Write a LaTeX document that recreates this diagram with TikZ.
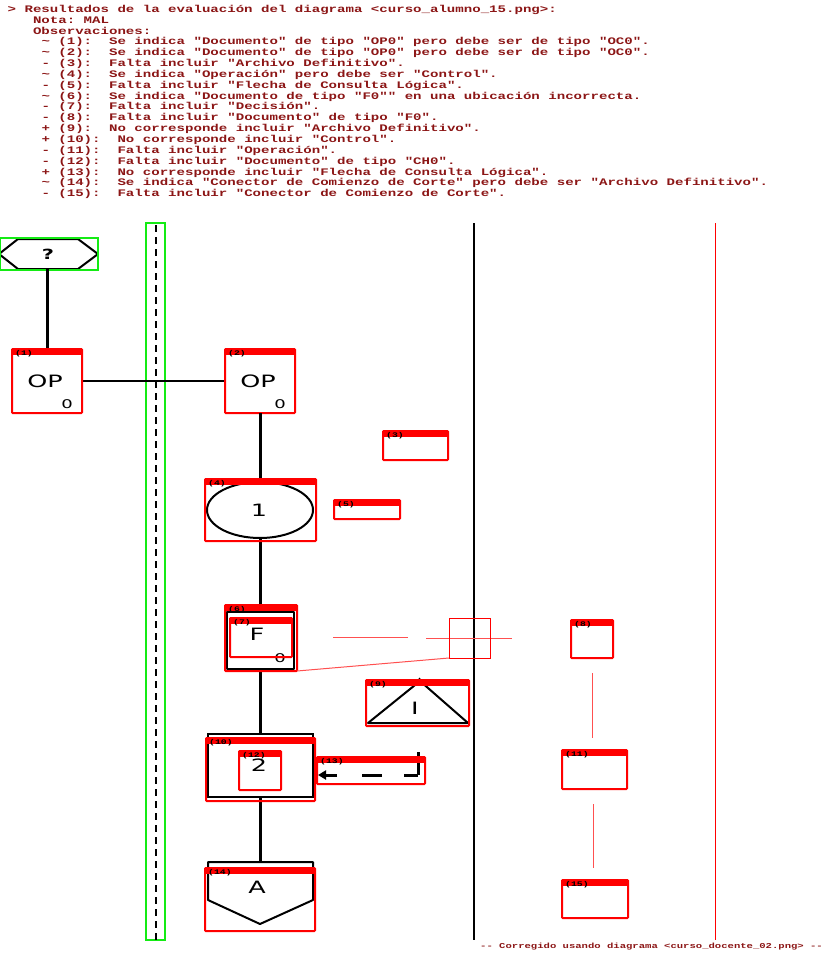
\documentclass[tikz,border=0pt]{standalone}
\usepackage{fontspec}
\setmainfont{DejaVu Sans}
\setmonofont{Liberation Mono}
\usepackage{graphicx}
\usetikzlibrary{arrows.meta,shapes.geometric}
\definecolor{hdr}{RGB}{140,22,22}
\definecolor{gr}{RGB}{20,235,20}
\definecolor{lred}{RGB}{255,80,80}
\newcommand\sx[1]{\scalebox{1.5}[1]{#1}}
\newcommand\hx[1]{\scalebox{1.408}[1]{#1}}
\newcommand\rbox[6]{%
  \draw[rb] (#2,#3) rectangle (#4,#5);
  \fill[red] (#2,#3) rectangle (#4,#3+6);
  \node[rlab] (#1) at (#2+3,#3+6) {\scalebox{1.4}[1]{(#6)}};
}
\tikzset{
  hdrtxt/.style={anchor=base west, inner sep=0pt, text=hdr, font=\fontsize{10}{10}\selectfont\ttfamily\bfseries},
  foot/.style={anchor=base west, inner sep=0pt, text=hdr, font=\fontsize{7.5}{8}\selectfont\ttfamily\bfseries},
  rb/.style={draw=red, line width=2pt, rounded corners=0.8pt},
  rlab/.style={anchor=base west, inner sep=0pt, text=black, font=\fontsize{7}{7}\selectfont\ttfamily\bfseries},
  shp/.style={draw=black, line width=2pt, line join=round},
  spine/.style={draw=black, line width=3pt},
  big/.style={inner sep=0pt, font=\fontsize{17}{17}\selectfont},
  small/.style={inner sep=0pt, font=\fontsize{12}{12}\selectfont},
  thin/.style={draw=lred, line width=1pt},
}
\begin{document}
\begin{tikzpicture}[x=1pt,y=-1pt]
\useasboundingbox (0,0) rectangle (826,953);
\fill[white] (0,0) rectangle (826,953);
% ---------- header ----------
\node[hdrtxt] (h0) at (7.5,12.3) {\hx{> Resultados de la evaluación del diagrama <curso\_alumno\_15.png>:}};
\node[hdrtxt] (h1) at (32.85,23.15) {\hx{Nota: MAL}};
\node[hdrtxt] (h2) at (32.85,34.0) {\hx{Observaciones:}};
\node[hdrtxt] (h3) at (41.3,44.85) {\hx{\textasciitilde{} (1):~~Se indica "Documento" de tipo "OP0" pero debe ser de tipo "OC0".}};
\node[hdrtxt] (h4) at (41.3,55.7) {\hx{\textasciitilde{} (2):~~Se indica "Documento" de tipo "OP0" pero debe ser de tipo "OC0".}};
\node[hdrtxt] (h5) at (41.3,66.55) {\hx{- (3):~~Falta incluir "Archivo Definitivo".}};
\node[hdrtxt] (h6) at (41.3,77.4) {\hx{\textasciitilde{} (4):~~Se indica "Operación" pero debe ser "Control".}};
\node[hdrtxt] (h7) at (41.3,88.25) {\hx{- (5):~~Falta incluir "Flecha de Consulta Lógica".}};
\node[hdrtxt] (h8) at (41.3,99.1) {\hx{\textasciitilde{} (6):~~Se indica "Documento de tipo "F0"" en una ubicación incorrecta.}};
\node[hdrtxt] (h9) at (41.3,109.95) {\hx{- (7):~~Falta incluir "Decisión".}};
\node[hdrtxt] (h10) at (41.3,120.8) {\hx{- (8):~~Falta incluir "Documento" de tipo "F0".}};
\node[hdrtxt] (h11) at (41.3,131.65) {\hx{+ (9):~~No corresponde incluir "Archivo Definitivo".}};
\node[hdrtxt] (h12) at (41.3,142.5) {\hx{+ (10):~~No corresponde incluir "Control".}};
\node[hdrtxt] (h13) at (41.3,153.35) {\hx{- (11):~~Falta incluir "Operación".}};
\node[hdrtxt] (h14) at (41.3,164.2) {\hx{- (12):~~Falta incluir "Documento" de tipo "CH0".}};
\node[hdrtxt] (h15) at (41.3,175.05) {\hx{+ (13):~~No corresponde incluir "Flecha de Consulta Lógica".}};
\node[hdrtxt] (h16) at (41.3,185.9) {\hx{\textasciitilde{} (14):~~Se indica "Conector de Comienzo de Corte" pero debe ser "Archivo Definitivo".}};
\node[hdrtxt] (h17) at (41.3,196.75) {\hx{- (15):~~Falta incluir "Conector de Comienzo de Corte".}};
% ---------- lanes ----------
\draw[gr, line width=1.5pt] (146,223) rectangle (165,940);
\draw[black, line width=2pt, dash pattern=on 7pt off 5pt] (155.5,225) -- (155.5,940);
\draw[black, line width=2pt] (474,223) -- (474,940);
\draw[red, line width=1pt] (715,223) -- (715,940);
% ---------- hexagon ----------
\draw[shp] (-1,254) -- (18,239) -- (78,239) -- (98,254) -- (78,269) -- (18,269) -- cycle;
\node[inner sep=0pt, font=\fontsize{14}{14}\selectfont\bfseries] (hexq) at (48,254) {\sx{?}};
\draw[gr, line width=1.5pt] (0,238) rectangle (98,270);
\coordinate (hexS) at (47,269);
\coordinate (b1N) at (47,349);
\draw[spine] (hexS) -- (b1N);
% ---------- OP boxes ----------
\coordinate (b1E) at (83,381);
\coordinate (b2W) at (225,381);
\draw[black, line width=2.5pt] (b1E) -- (b2W);
\node[big] (op1) at (45,381) {\sx{OP}};
\node[small] (op1s) at (67,404) {\sx{0}};
\node[big] (op2) at (258,381) {\sx{OP}};
\node[small] (op2s) at (280,404) {\sx{0}};
\rbox{l1}{12}{349}{82}{413}{1}
\rbox{l2}{225}{349}{295}{413}{2}
% ---------- spine ----------
\coordinate (b2S) at (260,413);
\coordinate (e4N) at (260,482);
\coordinate (e4S) at (260,538);
\coordinate (d6N) at (260,612);
\coordinate (d6S) at (260,669);
\coordinate (c10N) at (260,734);
\coordinate (c10S) at (260,797);
\coordinate (a14N) at (260,862);
\draw[spine] (b2S) -- (e4N);
\draw[spine] (e4S) -- (d6N);
\draw[spine] (d6S) -- (c10N);
\draw[spine] (c10S) -- (a14N);
% ---------- ellipse 1 ----------
\node[draw=black, line width=2pt, ellipse, minimum width=106pt, minimum height=56pt, inner sep=0pt] (ell) at (260,510) {};
\node[big] (ell1) at (259,510) {\sx{1}};
\rbox{l4}{205}{479}{316}{541}{4}
\rbox{l3}{383}{431}{448}{460}{3}
\rbox{l5}{334}{500}{400}{519}{5}
% ---------- document F ----------
\draw[shp] (227,612) rectangle (294,669);
\node[big] (docF) at (257,634) {\sx{F}};
\node[small] (docF0) at (280,658) {\sx{0}};
\rbox{l6}{225}{605}{297}{671}{6}
\rbox{l7}{230}{618}{292}{657}{7}
% thin red guide lines
\draw[thin] (333,637) -- (408,637);
\draw[thin] (426,638) -- (512,638);
\draw[red, line width=1pt] (449,618) rectangle (490,658);
\draw[thin] (297,671) -- (449,658);
% ---------- triangle I ----------
\draw[shp] (368,723) -- (420,681) -- (468,723) -- cycle;
\fill[black] (419.5,678.5) circle (1pt);
\node[big] (triI) at (415,708) {\sx{I}};
\rbox{l9}{366}{680}{469}{726}{9}
% ---------- control 2 ----------
\draw[black, line width=2.5pt] (208,734) rectangle (313,797);
\node[big] (ctl2) at (259,765) {\sx{2}};
\rbox{l10}{206}{738}{315}{801}{10}
\rbox{l12}{239}{751}{281}{790}{12}
% dashed consult arrow
\coordinate (f13a) at (418,752);
\coordinate (f13b) at (418,775);
\coordinate (f13c) at (318,775);
\draw[black, line width=3pt] (f13a) -- (f13b);
\draw[black, line width=3pt, dash pattern=on 14pt off 22pt on 20pt off 25pt on 40pt, -{Triangle[length=8pt,width=9pt]}] (f13b) -- (f13c);
\rbox{l13}{317}{757}{425}{784}{13}
% ---------- connector A ----------
\draw[shp] (208,862) -- (313,862) -- (313,900) -- (260,924) -- (208,900) -- cycle;
\node[big] (conA) at (257,887) {\sx{A}};
\rbox{l14}{205}{868}{315}{931}{14}
% ---------- right column ----------
\rbox{l8}{571}{620}{613}{658}{8}
\draw[thin] (592,673) -- (592,738);
\rbox{l11}{562}{750}{627}{789}{11}
\draw[thin] (593,804) -- (593,868);
\rbox{l15}{562}{880}{628}{918}{15}
% ---------- footer ----------
\node[foot] (ft) at (480,948) {\scalebox{1.41}[1]{-- Corregido usando diagrama <curso\_docente\_02.png> --}};
\end{tikzpicture}
\end{document}
